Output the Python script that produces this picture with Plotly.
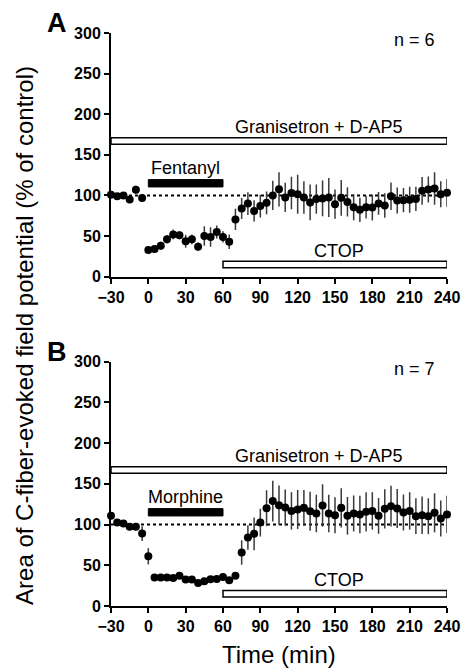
import plotly.graph_objects as go

# ---------------- data ----------------
time_min = list(range(-30, 245, 5))

# Panel A (Fentanyl), % of control
fent_mean = [101, 99, 100, 95, 107, 97,
             33, 34, 38, 46, 52, 51, 43.5, 46, 37, 50, 49, 55, 49, 43,
             70.5, 84, 90, 81, 87, 91, 100, 107.5, 97.5,
             103, 101.6, 97.5, 91.4, 95.5, 96.3, 97.5, 89.3, 97.1, 92.1,
             85.6, 82.3, 85.6, 85.2, 90.2, 87.7, 99.1, 93.9, 94.2, 94.6,
             95.8, 105.7, 107.4, 108.6, 101.6, 103.2]
fent_sem = [3, 3, 3, 4, 5, 3,
            4, 4, 5, 5, 6, 5, 8, 6, 5, 12, 12, 8, 7, 9,
            13, 13, 14, 13, 14, 14, 18, 21, 18,
            20, 24, 20, 22, 18, 22, 24, 18, 22, 18,
            16, 15, 14, 16, 14, 15, 17, 16, 15, 16,
            15, 17, 16, 20, 16, 17]

# Panel B (Morphine), % of control
morph_mean = [110.6, 102.4, 101.2, 97.1, 97.1, 88.9,
              61, 35, 35, 35, 34.4, 37, 32.5, 32.5, 28.3, 30.3, 32.8, 33.2, 35.6, 31.6, 37,
              65.6, 84, 88.5, 102.3, 120, 128.8, 123.7, 120.9,
              116.7, 118.4, 120.4, 116.3, 113.5, 123.3, 113.5, 111.4, 120.4, 110.6,
              113.5, 112.3, 115.5, 116.7, 110.6, 119.2, 122.5, 119.7, 114.7, 116.7,
              110.2, 111.4, 110.2, 114.3, 107.4, 112.3]
morph_sem = [3, 3, 3, 3, 3, 9,
             10, 4, 3, 3, 3, 3, 3, 3, 3, 3, 3, 3, 3, 3, 3,
             15, 15, 20, 17, 22, 25, 24, 22,
             23, 24, 22, 24, 23, 26, 23, 22, 24, 23,
             22, 23, 24, 23, 22, 24, 25, 24, 22, 23,
             22, 23, 22, 24, 22, 23]

# treatment periods (min)
gran_period = [-30, 240]
ctop_period = [60, 240]
opioid_period = [0, 60]

panel_letters = ["A", "B"]
opioid_names = ["Fentanyl", "Morphine"]
n_labels = ["n = 6", "n = 7"]
baseline_level = 100

x_ticks = list(range(-30, 241, 30))
y_ticks = list(range(0, 301, 50))

# ---------------- figure ----------------
FONT = "Liberation Sans, Arial, sans-serif"
fig = go.Figure()

panels = [("x", "y", fent_mean, fent_sem), ("x2", "y2", morph_mean, morph_sem)]
letter_y = [1.0166, 0.443]
for i, (xa, ya, m, s) in enumerate(panels):
    fig.add_trace(go.Scatter(
        x=time_min, y=m, mode="markers", xaxis=xa, yaxis=ya,
        marker=dict(color="black", size=8),
        error_y=dict(type="data", array=s, visible=True, color="#3a3a3a",
                     thickness=1.5, width=0),
        cliponaxis=False, showlegend=False))

    xr = xa
    yr = ya
    # dotted baseline
    fig.add_shape(type="line", xref=xr, yref=yr, x0=gran_period[0], x1=gran_period[1],
                  y0=baseline_level, y1=baseline_level, layer="below",
                  line=dict(color="black", width=2, dash="dot"))
    # Granisetron + D-AP5 open bar
    fig.add_shape(type="rect", xref=xr, yref=yr, x0=gran_period[0], x1=gran_period[1],
                  y0=163, y1=171, line=dict(color="black", width=1.5), fillcolor="white")
    # CTOP open bar
    fig.add_shape(type="rect", xref=xr, yref=yr, x0=ctop_period[0], x1=ctop_period[1],
                  y0=11, y1=19, line=dict(color="black", width=1.5), fillcolor="white")
    # opioid filled bar
    fig.add_shape(type="rect", xref=xr, yref=yr, x0=opioid_period[0], x1=opioid_period[1],
                  y0=110.5, y1=119.5, line=dict(color="black", width=1), fillcolor="black")

    lab = dict(xref=xr, yref=yr, showarrow=False, xanchor="center", yanchor="middle",
               font=dict(family=FONT, size=18, color="black"))
    fig.add_annotation(x=137, y=184, text="Granisetron + D-AP5", **lab)
    fig.add_annotation(x=153, y=32, text="CTOP", **lab)
    fig.add_annotation(x=30, y=134, text=opioid_names[i], **lab)
    fig.add_annotation(x=214, y=291, text=n_labels[i], **lab)
    fig.add_annotation(x=-0.16, y=letter_y[i], text=panel_letters[i], xref="paper", yref="paper",
                       showarrow=False, xanchor="center", yanchor="middle",
                       font=dict(family=FONT, size=27, color="black", weight=700))

axis_common = dict(showgrid=False, zeroline=False, showline=True, linecolor="black",
                   linewidth=2, ticks="outside", ticklen=5, tickwidth=2, tickcolor="black",
                   tickfont=dict(family=FONT, size=16, color="black", weight=700))

fig.update_layout(
    width=472, height=669,
    margin=dict(l=111, r=19, t=33, b=63),
    paper_bgcolor="white", plot_bgcolor="white",
    xaxis=dict(domain=[0, 1], anchor="y", range=[-30, 240], tickvals=x_ticks, **axis_common),
    yaxis=dict(domain=[0.5747, 1], anchor="x", range=[0, 300], tickvals=y_ticks, **axis_common),
    xaxis2=dict(domain=[0, 1], anchor="y2", range=[-30, 240], tickvals=x_ticks, **axis_common),
    yaxis2=dict(domain=[0, 0.4267], anchor="x2", range=[0, 300], tickvals=y_ticks, **axis_common),
)

fig.add_annotation(xref="paper", yref="paper", x=-0.256, y=0.473, textangle=-90,
                   xanchor="center", yanchor="middle",
                   text="Area of C-fiber-evoked field potential (% of control)",
                   showarrow=False, font=dict(family=FONT, size=24, color="black"))
fig.add_annotation(xref="paper", yref="paper", x=0.5, y=-0.0855,
                   xanchor="center", yanchor="middle",
                   text="Time (min)", showarrow=False,
                   font=dict(family=FONT, size=24, color="black"))

fig.write_html("out.html", config={"displayModeBar": False},
               post_script="document.body.style.margin='0';document.body.style.overflow='hidden';")
